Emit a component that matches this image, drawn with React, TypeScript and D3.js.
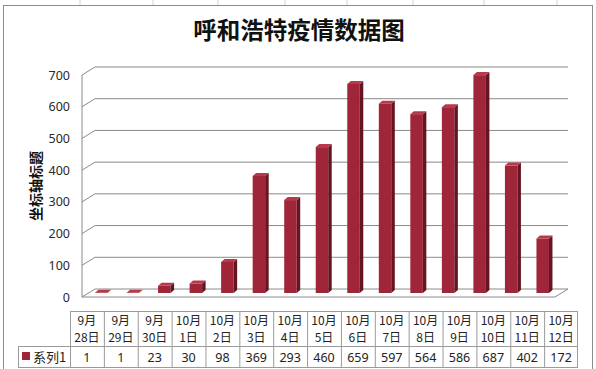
import * as d3 from 'd3';

const months = ['9月', '9月', '9月', '10月', '10月', '10月', '10月', '10月', '10月', '10月', '10月', '10月', '10月', '10月', '10月'];
const days = ['28日', '29日', '30日', '1日', '2日', '3日', '4日', '5日', '6日', '7日', '8日', '9日', '10日', '11日', '12日'];
const values = [1, 1, 23, 30, 98, 369, 293, 460, 659, 597, 564, 586, 687, 402, 172];
const yTicks = [0, 100, 200, 300, 400, 500, 600, 700];
const seriesName = '系列1';
const title = '呼和浩特疫情数据图';
const axisTitle = '坐标轴标题';

const W = 596;
const H = 369;
// 3D depth offset of the plot
const DX = 13;
const DY = -8;
const sans = '"Noto Sans", "Noto Sans CJK SC", sans-serif';
const cjk = '"Noto Sans CJK SC", sans-serif';

export default function App() {
  const idx = values.map((_, i) => String(i));
  const x = d3.scaleBand().domain(idx).range([82, 555]).padding(0);
  const y = d3.scaleLinear().domain([0, 700]).range([297, 75]);
  const col = d3.scaleBand().domain(idx).range([70, 578]).padding(0);

  const barW = 12.5;
  const sideW = 3.5;
  const sideH = 3;
  const barBase = y(0) + DY / 2;

  const excelCols = [80, 153, 218, 285, 347, 413, 484, 557];

  return (
    <svg width={W} height={H} style={{ position: 'absolute', left: 0, top: 0, background: '#fff' }}>
      {/* spreadsheet grid behind the chart */}
      {excelCols.map((cx) => (
        <line key={cx} x1={cx} x2={cx} y1={0} y2={6} stroke="#d4d4d4" />
      ))}
      <rect x={3.5} y={5.5} width={589} height={370} fill="#fff" stroke="#8c8c8c" />

      <text x={299} y={39} textAnchor="middle" fontFamily={cjk} fontWeight="bold" fontSize={23.5} fill="#111">
        {title}
      </text>

      {/* floor */}
      <path
        d={`M82,${y(0)} L555,${y(0)} L${555 + DX},${y(0) + DY} L${82 + DX},${y(0) + DY} Z`}
        fill="#fff"
        stroke="#8a8a8a"
      />
      {/* gridlines */}
      {yTicks.filter((t) => t > 0).map((t) => (
        <path
          key={t}
          d={`M82,${y(t)} L${82 + DX},${y(t) + DY} L${555 + DX},${y(t) + DY}`}
          fill="none"
          stroke="#8a8a8a"
        />
      ))}
      <line x1={82} x2={82} y1={y(700)} y2={y(0)} stroke="#8a8a8a" />

      {yTicks.map((t) => (
        <text key={t} x={70} y={y(t) + 4.5} textAnchor="end" fontFamily={sans} fontSize={12.5} fill="#2a2a2a">
          {t}
        </text>
      ))}

      <text
        transform={`translate(41,186) rotate(-90)`}
        textAnchor="middle"
        fontFamily={cjk}
        fontWeight="bold"
        fontSize={14}
        fill="#111"
      >
        {axisTitle}
      </text>

      {/* bars */}
      {values.map((v, i) => {
        const L = (x(String(i)) as number) + 13;
        const top = y(v) + DY / 2;
        return (
          <g key={i}>
            <rect x={L} y={top} width={barW} height={Math.max(0, barBase - top)} fill="#9f2638" />
            <path
              d={`M${L + barW},${top} L${L + barW + sideW},${top - sideH} L${L + barW + sideW},${barBase - sideH} L${L + barW},${barBase} Z`}
              fill="#661520"
            />
            <path
              d={`M${L},${top} L${L + sideW},${top - sideH} L${L + barW + sideW},${top - sideH} L${L + barW},${top} Z`}
              fill="#b83a4a"
            />
          </g>
        );
      })}

      {/* data table */}
      <g stroke="#9a9a9a" fill="none">
        <line x1={70} x2={578} y1={311.5} y2={311.5} />
        <line x1={18} x2={578} y1={346.5} y2={346.5} />
        <line x1={18} x2={578} y1={367.5} y2={367.5} />
        <line x1={18.5} x2={18.5} y1={346.5} y2={367.5} />
        {idx.map((k) => (
          <line key={k} x1={(col(k) as number) + 0.5} x2={(col(k) as number) + 0.5} y1={311.5} y2={367.5} />
        ))}
        <line x1={577.5} x2={577.5} y1={311.5} y2={367.5} />
      </g>
      {values.map((v, i) => {
        const cx = (col(String(i)) as number) + col.bandwidth() / 2;
        return (
          <g key={i} fontFamily={cjk} fontSize={12} fill="#222" textAnchor="middle">
            <text x={cx} y={325}>{months[i]}</text>
            <text x={cx} y={342}>{days[i]}</text>
            <text x={cx} y={362} fontFamily={sans} fontSize={12.5}>{v}</text>
          </g>
        );
      })}
      <rect x={22} y={352} width={8} height={8} fill="#9f2638" />
      <text x={33} y={362} fontFamily={cjk} fontSize={13} fill="#222">
        {seriesName}
      </text>
    </svg>
  );
}
